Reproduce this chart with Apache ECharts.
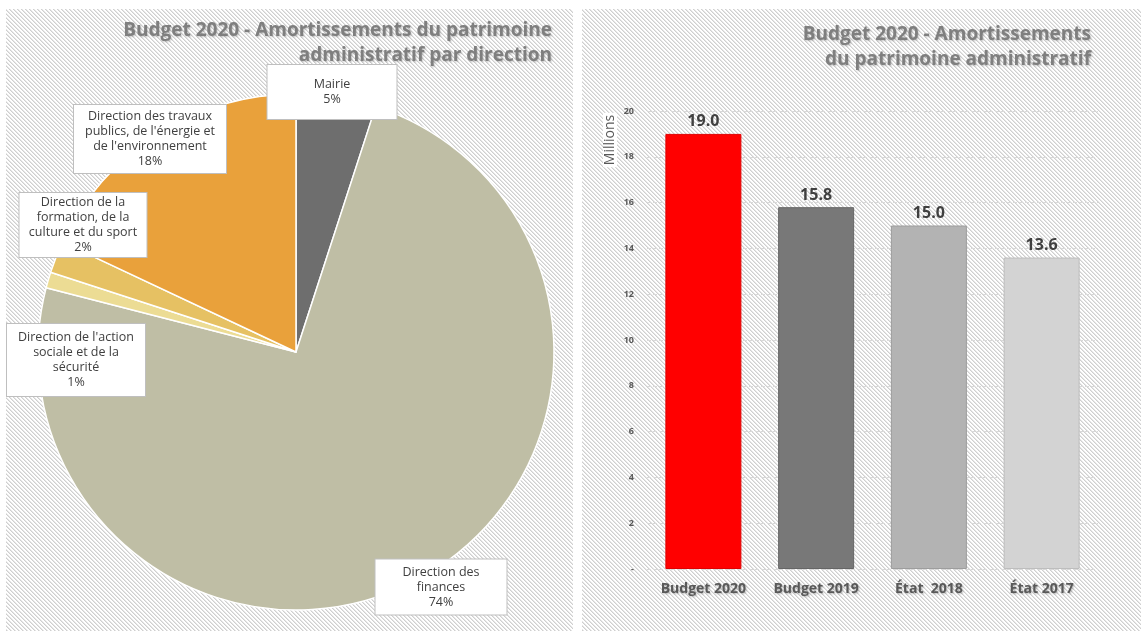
<!DOCTYPE html>
<html>
<head>
<meta charset="utf-8">
<script src="https://cdn.jsdelivr.net/npm/echarts@6/dist/echarts.min.js"></script>
<style>
html,body{margin:0;padding:0;background:#fff;}
#c{width:1141px;height:631px;}
</style>
</head>
<body>
<div id="c"></div>
<script>
// ---- Data ----
var pieNames = [
  "Mairie",
  "Direction des finances",
  "Direction de l'action sociale et de la sécurité",
  "Direction de la formation, de la culture et du sport",
  "Direction des travaux publics, de l'énergie et de l'environnement"
];
var pieLabels = [
  "Mairie",
  "Direction des\nfinances",
  "Direction de l'action\nsociale et de la\nsécurité",
  "Direction de la\nformation, de la\nculture et du sport",
  "Direction des travaux\npublics, de l'énergie et\nde l'environnement"
];
var pieValues = [5, 74, 1, 2, 18];
var pieTitle = "Budget 2020 - Amortissements du patrimoine\nadministratif par direction";

var barCategories = ["Budget 2020", "Budget 2019", "État  2018", "État 2017"];
var barValues = [19.0, 15.8, 15.0, 13.6];
var barTitle = "Budget 2020 - Amortissements\ndu patrimoine administratif";
var yAxisName = "Millions";

// ---- Styles ----
var pieColors = ["#6e6e6e", "#bfbea5", "#ecdc94", "#e6c163", "#e9a13b"];
var barColors = ["#ff0000", "#787878", "#b3b3b3", "#d3d3d3"];
var barBorders = ["#e00000", "#666666", "#9d9d9d", "#bdbdbd"];
var FONT = "'Open Sans', 'DejaVu Sans', sans-serif";

// label boxes: [centerX, centerY, boxWidth, verticalPadding]
var pieBoxes = [
  [332, 92, 129, 12],
  [441, 587, 131, 5],
  [76, 360, 138, 6],
  [83, 225, 127, 2],
  [150, 139, 152, 4]
];

// hatch pattern
var pc = document.createElement('canvas');
pc.width = 4; pc.height = 4;
var pctx = pc.getContext('2d');
pctx.fillStyle = '#ffffff'; pctx.fillRect(0,0,4,4);
for (var i = 0; i < 4; i++) {
  pctx.fillStyle = '#cfcfcf'; pctx.fillRect(i, i, 1, 1);
  pctx.fillStyle = '#e6e6e6'; pctx.fillRect((i+1)%4, i, 1, 1);
}
var hatch = { image: pc, repeat: 'repeat' };

var chart = echarts.init(document.getElementById('c'));

var pieData = pieValues.map(function (v, i) {
  return {
    name: pieNames[i],
    value: v,
    itemStyle: { color: pieColors[i] },
    label: {
      formatter: pieLabels[i] + '\n{d}%',
      width: pieBoxes[i][2] - 6,
      padding: [pieBoxes[i][3], 3]
    },
    labelLine: { show: false }
  };
});

var titleStyle = {
  align: 'right', verticalAlign: 'top',
  font: "bold 19px " + FONT, fill: '#7f7f7f', lineHeight: 25,
  textShadowColor: 'rgba(0,0,0,0.22)', textShadowBlur: 2, textShadowOffsetX: 1, textShadowOffsetY: 1
};

var option = {
  animation: false,
  graphic: [
    { type: 'rect', z: -10, silent: true, shape: { x: 6, y: 9, width: 567, height: 622 }, style: { fill: hatch } },
    { type: 'rect', z: -10, silent: true, shape: { x: 582, y: 9, width: 559, height: 622 }, style: { fill: hatch } },
    { type: 'text', z: 10, x: 552, y: 18, style: Object.assign({ text: pieTitle }, titleStyle) },
    { type: 'text', z: 10, x: 1091, y: 22, style: Object.assign({ text: barTitle }, titleStyle) },
    {
      type: 'text', z: 10, x: 610, y: 140, rotation: Math.PI / 2,
      style: {
        text: yAxisName, align: 'center', verticalAlign: 'middle',
        font: "14px " + FONT, fill: '#595959',
        backgroundColor: '#ffffff', padding: [0, 2]
      }
    }
  ],
  grid: { left: 647, right: 43, top: 111, bottom: 62 },
  xAxis: {
    type: 'category',
    data: barCategories,
    axisLine: { show: false },
    axisTick: { show: false },
    axisLabel: {
      margin: 13, fontFamily: FONT, fontWeight: 'bold', fontSize: 14, color: '#595959',
      textShadowColor: 'rgba(0,0,0,0.25)', textShadowBlur: 2, textShadowOffsetX: 1, textShadowOffsetY: 1
    }
  },
  yAxis: {
    type: 'value', min: 0, max: 20, interval: 2,
    axisLine: { show: false }, axisTick: { show: false },
    axisLabel: {
      margin: 13, fontFamily: FONT, fontWeight: 'bold', fontSize: 9, color: '#595959',
      formatter: function (v) { return v === 0 ? '-' : String(v); }
    },
    splitLine: { lineStyle: { color: '#d9d9d9', type: [4, 2], width: 1 } }
  },
  series: [
    {
      type: 'pie',
      center: [296, 352],
      radius: 258,
      startAngle: 90,
      clockwise: true,
      percentPrecision: 0,
      itemStyle: { borderColor: '#ffffff', borderWidth: 1.5 },
      label: {
        show: true, position: 'outside',
        fontFamily: FONT, fontSize: 12.5, color: '#404040', lineHeight: 15,
        align: 'center',
        backgroundColor: '#ffffff', borderColor: '#bfbfbf', borderWidth: 1
      },
      labelLayout: function (p) {
        var b = pieBoxes[p.dataIndex];
        return { x: b[0], y: b[1], align: 'center', verticalAlign: 'middle' };
      },
      emphasis: { disabled: true },
      data: pieData
    },
    {
      type: 'bar',
      data: barValues.map(function (v, i) {
        return { value: v, itemStyle: { color: barColors[i], borderColor: barBorders[i], borderWidth: 1 } };
      }),
      barWidth: 76,
      label: {
        show: true, position: 'top', distance: 4,
        formatter: function (p) { return p.value.toFixed(1); },
        fontFamily: FONT, fontWeight: 'bold', fontSize: 16, color: '#404040'
      },
      emphasis: { disabled: true }
    }
  ]
};
chart.setOption(option);
</script>
</body>
</html>
